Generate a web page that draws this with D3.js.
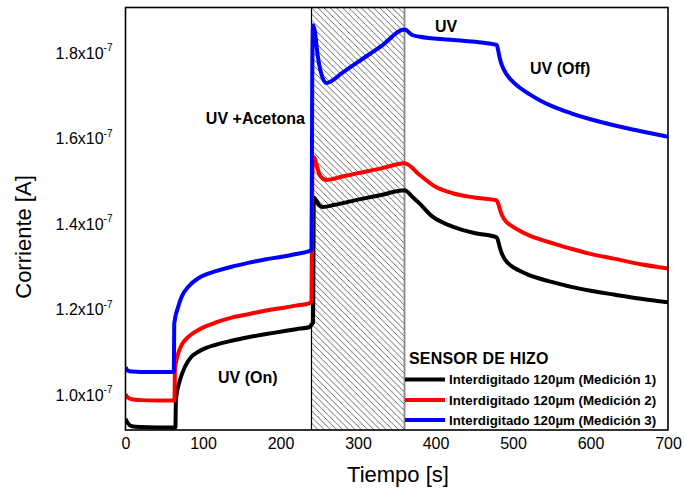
<!DOCTYPE html>
<html>
<head>
<meta charset="utf-8">
<script src="https://cdn.jsdelivr.net/npm/d3@7"></script>
<style>
  html, body { margin: 0; padding: 0; background: #fff; }
  svg { display: block; font-family: Arial, "Liberation Sans", sans-serif; }
</style>
</head>
<body>
<svg id="chart" width="685" height="488"></svg>
<script>
// Time axis (s) and current (×10⁻⁷ A) for each measurement
const timeM1 = [0, 3, 8, 20, 40, 64.4, 65, 66, 70.3, 76.7, 85.3, 93.9, 104, 115.4, 136.9, 158.3, 179.8, 200, 220, 238, 240, 242, 243, 246, 250, 255, 270, 300, 330, 360, 370, 380, 395, 410, 422, 450, 479, 481, 483, 486, 490, 497, 508, 520, 535, 551, 575, 600, 630, 665, 700];
const currentM1 = [0.937, 0.927, 0.92, 0.918, 0.917, 0.917, 0.98, 0.995, 1.028, 1.059, 1.083, 1.094, 1.103, 1.11, 1.12, 1.128, 1.135, 1.141, 1.147, 1.152, 1.158, 1.162, 1.455, 1.448, 1.437, 1.433, 1.438, 1.45, 1.461, 1.472, 1.457, 1.44, 1.412, 1.396, 1.387, 1.372, 1.362, 1.352, 1.338, 1.322, 1.309, 1.296, 1.284, 1.274, 1.265, 1.257, 1.246, 1.237, 1.228, 1.218, 1.21];

const timeM2 = [0, 3, 8, 20, 40, 63.2, 63.8, 65, 68.1, 72.4, 81, 93.9, 104, 115.4, 136.9, 158.3, 179.8, 200, 220, 238, 240, 241, 243, 246, 250, 255, 259, 280, 300, 330, 360, 380, 400, 422, 450, 479, 481, 483, 486, 490, 497, 508, 520, 535, 551, 575, 600, 630, 665, 700];
const currentM2 = [0.995, 0.987, 0.983, 0.981, 0.98, 0.98, 1.05, 1.068, 1.091, 1.11, 1.129, 1.145, 1.154, 1.162, 1.174, 1.182, 1.19, 1.196, 1.202, 1.208, 1.213, 1.5, 1.55, 1.535, 1.51, 1.499, 1.496, 1.504, 1.512, 1.523, 1.535, 1.507, 1.48, 1.465, 1.455, 1.448, 1.44, 1.428, 1.413, 1.401, 1.39, 1.378, 1.367, 1.357, 1.348, 1.335, 1.323, 1.312, 1.299, 1.289];

const timeM3 = [0, 3, 8, 20, 40, 62.4, 62.9, 68.1, 72.4, 81, 93.9, 104, 115.4, 136.9, 158.3, 179.8, 200, 220, 238, 240, 241, 242, 244, 248, 253, 259, 280, 300, 330, 360, 370, 380, 420, 479, 481, 483, 486, 490, 497, 508, 520, 535, 551, 575, 600, 630, 665, 700];
const currentM3 = [1.058, 1.05, 1.048, 1.047, 1.047, 1.047, 1.16, 1.2, 1.223, 1.246, 1.266, 1.275, 1.282, 1.293, 1.302, 1.31, 1.316, 1.323, 1.33, 1.335, 1.75, 1.858, 1.847, 1.787, 1.742, 1.723, 1.747, 1.772, 1.809, 1.848, 1.835, 1.831, 1.824, 1.812, 1.798, 1.78, 1.763, 1.748, 1.731, 1.713, 1.698, 1.682, 1.668, 1.652, 1.638, 1.624, 1.61, 1.597];

const seriesNames = ["Interdigitado 120µm (Medición 1)", "Interdigitado 120µm (Medición 2)", "Interdigitado 120µm (Medición 3)"];
const seriesColors = ["#000000", "#ff0000", "#0000ff"];

const xTicks = [0, 100, 200, 300, 400, 500, 600, 700];
const yTicks = [1.0, 1.2, 1.4, 1.6, 1.8];

// Acetone exposure window (s)
const acetoneWindow = [240, 360];

const svg = d3.select("#chart");
const plot = { left: 125.5, right: 668, top: 7.5, bottom: 430 };

const x = d3.scaleLinear().domain([0, 700]).range([plot.left, plot.right]);
const y = d3.scaleLinear().domain([1.0, 1.8]).range([392, 50]);

// Diagonal hatch for the acetone window
const defs = svg.append("defs");
const hs = 6.2;
const pat = defs.append("pattern")
  .attr("id", "hatch")
  .attr("patternUnits", "userSpaceOnUse")
  .attr("width", hs).attr("height", hs);
pat.append("path")
  .attr("d", `M0,0 L${hs},${hs} M-1,${hs - 1} L1,${hs + 1} M${hs - 1},-1 L${hs + 1},1`)
  .attr("stroke", "#444").attr("stroke-width", 0.8).attr("fill", "none");

defs.append("clipPath").attr("id", "plotClip")
  .append("rect")
  .attr("x", plot.left).attr("y", plot.top)
  .attr("width", plot.right - plot.left).attr("height", plot.bottom - plot.top);

svg.append("rect")
  .attr("x", x(acetoneWindow[0])).attr("y", plot.top)
  .attr("width", x(acetoneWindow[1]) - x(acetoneWindow[0]))
  .attr("height", plot.bottom - plot.top)
  .attr("fill", "url(#hatch)");
svg.append("line")
  .attr("x1", x(acetoneWindow[0])).attr("x2", x(acetoneWindow[0]))
  .attr("y1", plot.top).attr("y2", plot.bottom)
  .attr("stroke", "#000").attr("stroke-width", 1.2);
svg.append("line")
  .attr("x1", x(acetoneWindow[1])).attr("x2", x(acetoneWindow[1]))
  .attr("y1", plot.top).attr("y2", plot.bottom)
  .attr("stroke", "#888").attr("stroke-width", 1.8);

// Curves
const series = [
  { t: timeM1, v: currentM1 },
  { t: timeM2, v: currentM2 },
  { t: timeM3, v: currentM3 }
];
const line = d3.line()
  .x(d => x(d[0]))
  .y(d => y(d[1]))
  .curve(d3.curveMonotoneX);

const curves = svg.append("g").attr("clip-path", "url(#plotClip)");
series.forEach((s, i) => {
  const pts = s.t.map((t, k) => [t, s.v[k]]);
  curves.append("path")
    .datum(pts)
    .attr("d", line)
    .attr("fill", "none")
    .attr("stroke", seriesColors[i])
    .attr("stroke-width", 4)
    .attr("stroke-linejoin", "round");
});

// Frame
svg.append("rect")
  .attr("x", plot.left).attr("y", plot.top)
  .attr("width", plot.right - plot.left).attr("height", plot.bottom - plot.top)
  .attr("fill", "none").attr("stroke", "#000").attr("stroke-width", 1.6);

// X axis tick labels
const xAxis = d3.axisBottom(x).tickValues(xTicks).tickSize(0).tickPadding(8)
  .tickFormat(d3.format("d"));
const gx = svg.append("g").attr("transform", `translate(0,${plot.bottom})`).call(xAxis);
gx.select(".domain").remove();
gx.selectAll("text")
  .attr("font-size", 16).attr("fill", "#000")
  .attr("font-family", "Arial, 'Liberation Sans', sans-serif");

// Y axis tick labels with scientific notation
const yAxis = d3.axisLeft(y).tickValues(yTicks).tickSize(0).tickPadding(13)
  .tickFormat(() => "");
const gy = svg.append("g").attr("transform", `translate(${plot.left},0)`).call(yAxis);
gy.select(".domain").remove();
gy.selectAll(".tick text").each(function(d) {
  const t = d3.select(this)
    .attr("font-size", 16).attr("fill", "#000")
    .attr("font-family", "Arial, 'Liberation Sans', sans-serif")
    .attr("dy", "0.5em");
  t.append("tspan").text(d3.format(".1f")(d) + "x10");
  t.append("tspan").attr("font-size", 10).attr("dy", "-0.75em").text("-7");
});

// Axis titles
svg.append("text")
  .attr("x", 398).attr("y", 482)
  .attr("text-anchor", "middle")
  .attr("font-size", 22)
  .text("Tiempo [s]");
svg.append("text")
  .attr("transform", "translate(31,237) rotate(-90)")
  .attr("text-anchor", "middle")
  .attr("font-size", 22)
  .text("Corriente [A]");

// Annotations
const notes = [
  { text: "UV +Acetona", x: 305, y: 118, anchor: "end" },
  { text: "UV", x: 435, y: 26, anchor: "start" },
  { text: "UV (Off)", x: 530, y: 68, anchor: "start" },
  { text: "UV (On)", x: 218, y: 377, anchor: "start" }
];
notes.forEach(n => {
  svg.append("text")
    .attr("x", n.x).attr("y", n.y).attr("dy", "0.35em")
    .attr("text-anchor", n.anchor)
    .attr("font-size", 16).attr("font-weight", "bold")
    .text(n.text);
});

// Legend
const legend = svg.append("g");
legend.append("text")
  .attr("x", 409).attr("y", 358).attr("dy", "0.35em")
  .attr("font-size", 16).attr("font-weight", "bold")
  .attr("letter-spacing", 0.2)
  .text("SENSOR DE HIZO");
const legendY = [379.5, 400, 420];
seriesNames.forEach((name, i) => {
  legend.append("line")
    .attr("x1", 405).attr("x2", 445)
    .attr("y1", legendY[i]).attr("y2", legendY[i])
    .attr("stroke", seriesColors[i]).attr("stroke-width", 4);
  legend.append("text")
    .attr("x", 449).attr("y", legendY[i]).attr("dy", "0.35em")
    .attr("font-size", 13.3).attr("font-weight", "bold")
    .text(name);
});
</script>
</body>
</html>
